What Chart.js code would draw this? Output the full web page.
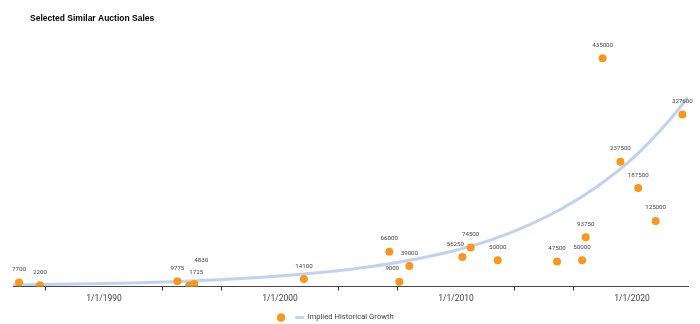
<!doctype html>
<html>
  <head>
    <script src="https://cdn.jsdelivr.net/npm/chart.js@4"></script>
    <style>
      body { margin: 0; background: #fff; }
    </style>
  </head>

  <body>
    <div>
      <canvas id="canvas" width="700" height="324"></canvas>
    </div>
    <script>
      const chartTitle = 'Selected Similar Auction Sales';
      const growthLabel = 'Implied Historical Growth';

      // sales: decimal year of sale, price
      const saleYears = [1985.17, 1986.36, 1994.17, 1994.84, 1995.13, 2001.36, 2006.21, 2006.78, 2007.35, 2010.36,
        2010.83, 2012.37, 2015.74, 2017.16, 2017.37, 2018.33, 2019.34, 2020.35, 2021.34, 2022.86];
      const salePrices = [7700, 2200, 9775, 1725, 4830, 14100, 66000, 9000, 39000, 56250,
        74500, 50000, 47500, 50000, 93750, 435000, 237500, 187500, 125000, 327600];

      // growth curve
      const growthYears = [1984.83, 1990, 1995, 2000, 2005, 2010, 2013, 2016, 2018, 2020, 2022, 2023.18];
      const growthValues = [3000, 5700, 10700, 20000, 37000, 69000, 101000, 148000, 190000, 243000, 312000, 360000];

      // axis: tick marks and labelled years
      const tickYears = [1986.667, 1990, 1993.333, 1996.667, 2000, 2003.333, 2006.667, 2010, 2013.333, 2016.667, 2020];
      const labelYears = [1990, 2000, 2010, 2020];

      const orange = '#f7981d';
      const blue = 'rgba(51,102,204,0.3)';

      const isLabelled = (v) => labelYears.some((y) => Math.abs(y - v) < 1e-6);

      const titlePlugin = {
        id: 'titleText',
        afterDraw(chart) {
          const ctx = chart.ctx;
          ctx.save();
          ctx.font = 'bold 8.5px "Liberation Sans", Arial, sans-serif';
          ctx.fillStyle = '#000';
          ctx.textBaseline = 'middle';
          ctx.fillText(chartTitle, 30, 19);
          ctx.restore();
        },
      };

      // value labels above the dots, nudged when they collide
      const pointLabels = {
        id: 'pointLabels',
        afterDatasetsDraw(chart) {
          const meta = chart.getDatasetMeta(0);
          const ctx = chart.ctx;
          ctx.save();
          ctx.font = '6.2px Roboto, sans-serif';
          ctx.fillStyle = '#444';
          ctx.textAlign = 'center';
          ctx.textBaseline = 'middle';
          const boxes = meta.data.map((p) => ({ x0: p.x - 4, x1: p.x + 4, y0: p.y - 4, y1: p.y + 4 }));
          const tries = [[0, 0], [7, 0], [0, 4], [-7, 0], [7, -11], [0, -11]];
          meta.data.forEach((p, i) => {
            const text = String(salePrices[i]);
            const w = ctx.measureText(text).width;
            const h = 6;
            for (let k = 0; k < tries.length; k++) {
              const cx = p.x + tries[k][0];
              const cy = p.y - 13 + tries[k][1];
              const b = { x0: cx - w / 2, x1: cx + w / 2, y0: cy - h / 2, y1: cy + h / 2 };
              const hit = boxes.some((o) => o.x0 < b.x1 && b.x0 < o.x1 && o.y0 < b.y1 && b.y0 < o.y1);
              if (!hit || k === tries.length - 1) {
                ctx.fillText(text, cx, cy);
                boxes.push(b);
                break;
              }
            }
          });
          ctx.restore();
        },
      };

      const legendShift = {
        id: 'legendShift',
        afterLayout(chart) {
          chart.legend.left -= 15;
          chart.legend.right -= 15;
        },
      };

      new Chart(document.getElementById('canvas').getContext('2d'), {
        type: 'scatter',
        data: {
          datasets: [
            {
              label: '',
              data: saleYears.map((x, i) => ({ x, y: salePrices[i] })),
              backgroundColor: orange,
              borderWidth: 0,
              pointRadius: 4,
              pointStyle: 'circle',
              order: 0,
            },
            {
              label: growthLabel,
              data: growthYears.map((x, i) => ({ x, y: growthValues[i] })),
              showLine: true,
              borderColor: blue,
              borderWidth: 3,
              pointRadius: 0,
              pointStyle: 'line',
              pointBorderColor: blue,
              pointBorderWidth: 3,
              cubicInterpolationMode: 'monotone',
              order: 1,
            },
          ],
        },
        options: {
          responsive: false,
          animation: false,
          devicePixelRatio: 1,
          layout: { padding: { left: 13, right: 12, top: 24, bottom: 0 } },
          scales: {
            x: {
              type: 'linear',
              min: 1984.83,
              max: 2023.18,
              afterBuildTicks: (scale) => {
                scale.ticks = tickYears.map((v) => ({ value: v }));
              },
              ticks: {
                autoSkip: false,
                maxRotation: 0,
                padding: 3,
                color: '#444',
                font: { family: 'Roboto', size: 8.5 },
                callback: (v) => (isLabelled(v) ? '1/1/' + Math.round(v) : ''),
              },
              grid: {
                drawOnChartArea: false,
                tickLength: 4,
                tickColor: (c) => (c.tick && isLabelled(c.tick.value) ? 'rgba(0,0,0,0)' : '#333'),
              },
              border: { color: '#444', width: 1 },
            },
            y: {
              display: false,
              min: 0,
              max: 500000,
            },
          },
          plugins: {
            title: { display: false },
            tooltip: { enabled: false },
            legend: {
              position: 'bottom',
              maxHeight: 17.3,
              labels: {
                usePointStyle: true,
                boxHeight: 6,
                padding: 7,
                color: '#444',
                font: { family: 'Roboto', size: 7.7 },
              },
            },
          },
        },
        plugins: [titlePlugin, pointLabels, legendShift],
      });
    </script>
  </body>
</html>
